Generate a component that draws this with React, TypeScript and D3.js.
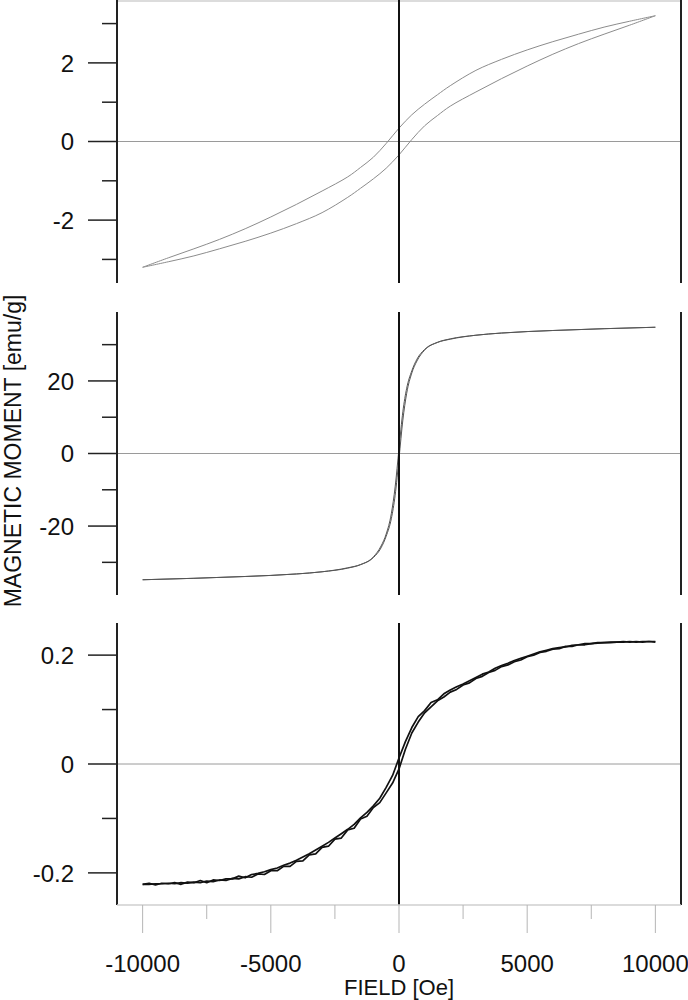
import React from "react";
import * as d3 from "d3";

// ---------- DATA ----------
// Panel 1 (hysteresis, weak)
const field1 = [-10000, -9000, -8000, -7000, -6000, -5000, -4000, -3000, -2000, -1500, -1000, -500, 0, 500, 1000, 1500, 2000, 3000, 4000, 5000, 6000, 7000, 8000, 9000, 10000];
const upper1 = [-3.2, -2.96, -2.73, -2.49, -2.22, -1.92, -1.6, -1.26, -0.9, -0.66, -0.4, -0.05, 0.34, 0.68, 0.95, 1.19, 1.42, 1.81, 2.09, 2.33, 2.54, 2.73, 2.91, 3.06, 3.2];
const lower1 = [-3.2, -3.06, -2.91, -2.73, -2.54, -2.33, -2.09, -1.81, -1.42, -1.19, -0.95, -0.68, -0.34, 0.05, 0.4, 0.66, 0.9, 1.26, 1.6, 1.92, 2.22, 2.49, 2.73, 2.96, 3.2];

// Panel 2 (soft ferromagnetic)
const field2 = [-10000, -8000, -6000, -4000, -3000, -2000, -1500, -1000, -700, -500, -300, -150, 0, 150, 300, 500, 700, 1000, 1500, 2000, 3000, 4000, 6000, 8000, 10000];
const upper2 = [-34.8, -34.4, -33.9, -33.2, -32.6, -31.5, -30.6, -28.5, -25.5, -22.2, -16.6, -9.2, 1.4, 11.5, 18.0, 22.8, 26.0, 28.7, 30.65, 31.6, 32.6, 33.2, 33.9, 34.4, 34.8];
const lower2 = [-34.8, -34.4, -33.9, -33.2, -32.6, -31.6, -30.65, -28.7, -26.0, -22.8, -18.0, -11.5, -1.4, 9.2, 16.6, 22.2, 25.5, 28.5, 30.6, 31.5, 32.6, 33.2, 33.9, 34.4, 34.8];

// Panel 3 (noisy measurement)
const field3 = [-10000, -9750, -9500, -9250, -9000, -8750, -8500, -8250, -8000, -7750, -7500, -7250, -7000, -6750, -6500, -6250, -6000, -5750, -5500, -5250, -5000, -4750, -4500, -4250, -4000, -3750, -3500, -3250, -3000, -2750, -2500, -2250, -2000, -1750, -1500, -1250, -1000, -750, -500, -250, 0, 250, 500, 750, 1000, 1250, 1500, 1750, 2000, 2250, 2500, 2750, 3000, 3250, 3500, 3750, 4000, 4250, 4500, 4750, 5000, 5250, 5500, 5750, 6000, 6250, 6500, 6750, 7000, 7250, 7500, 7750, 8000, 8250, 8500, 8750, 9000, 9250, 9500, 9750, 10000];
const upper3 = [-0.221, -0.219, -0.222, -0.219, -0.22, -0.218, -0.221, -0.217, -0.218, -0.214, -0.218, -0.213, -0.214, -0.211, -0.211, -0.206, -0.209, -0.203, -0.201, -0.198, -0.194, -0.191, -0.186, -0.182, -0.177, -0.171, -0.165, -0.158, -0.151, -0.144, -0.136, -0.128, -0.12, -0.111, -0.099, -0.089, -0.077, -0.063, -0.043, -0.021, 0.011, 0.041, 0.067, 0.087, 0.098, 0.113, 0.118, 0.129, 0.136, 0.142, 0.147, 0.153, 0.159, 0.165, 0.169, 0.176, 0.181, 0.185, 0.19, 0.194, 0.198, 0.202, 0.206, 0.209, 0.212, 0.214, 0.215, 0.218, 0.219, 0.221, 0.221, 0.223, 0.223, 0.224, 0.224, 0.225, 0.224, 0.225, 0.224, 0.225, 0.224];
const lower3 = [-0.221, -0.221, -0.22, -0.22, -0.219, -0.22, -0.218, -0.219, -0.217, -0.218, -0.215, -0.216, -0.213, -0.214, -0.21, -0.211, -0.207, -0.208, -0.202, -0.203, -0.196, -0.196, -0.188, -0.188, -0.179, -0.178, -0.167, -0.165, -0.153, -0.151, -0.138, -0.136, -0.121, -0.118, -0.101, -0.096, -0.08, -0.071, -0.053, -0.035, -0.009, 0.027, 0.057, 0.077, 0.094, 0.105, 0.116, 0.123, 0.132, 0.137, 0.145, 0.149, 0.157, 0.161, 0.168, 0.172, 0.179, 0.182, 0.188, 0.191, 0.197, 0.2, 0.205, 0.207, 0.211, 0.212, 0.216, 0.216, 0.219, 0.219, 0.221, 0.222, 0.223, 0.223, 0.224, 0.224, 0.225, 0.224, 0.225, 0.225, 0.225];

// Ticks
const xMajorTicks = [-10000, -5000, 0, 5000, 10000];
const xMinorTicks = [-7500, -2500, 2500, 7500];
const yTicks1 = [-3, -2, -1, 0, 1, 2, 3];
const yLabels1 = [-2, 0, 2];
const yTicks2 = [-30, -20, -10, 0, 10, 20, 30];
const yLabels2 = [-20, 0, 20];
const yTicks3 = [-0.2, -0.1, 0, 0.1, 0.2];
const yLabels3 = [-0.2, 0, 0.2];

const xTitle = "FIELD [Oe]";
const yTitle = "MAGNETIC MOMENT [emu/g]";

const FONT = "'Liberation Sans', Arial, sans-serif";

const LEFT = 117;
const RIGHT = 681;

const x = d3.scaleLinear().domain([-11000, 11000]).range([LEFT, RIGHT]);

type PanelProps = {
  top: number;
  bottom: number;
  domain: [number, number];
  ticks: number[];
  labels: number[];
  branches: { xs: number[]; ys: number[] }[];
  stroke: string;
  strokeWidth: number;
  curve: d3.CurveFactory;
  fmt: (v: number) => string;
};

function Panel(p: PanelProps) {
  const y = d3.scaleLinear().domain(p.domain).range([p.bottom, p.top]);
  const isMajor = (v: number) => p.labels.some((l) => Math.abs(l - v) < 1e-9);
  return (
    <g>
      <line x1={LEFT} x2={RIGHT} y1={y(0)} y2={y(0)} stroke="#9a9a9a" strokeWidth={1} />
      {p.branches.map((b, i) => {
        const line = d3
          .line<number>()
          .x((_, j) => x(b.xs[j]))
          .y((v) => y(v))
          .curve(p.curve);
        return (
          <path key={i} d={line(b.ys) || ""} fill="none" stroke={p.stroke} strokeWidth={p.strokeWidth} strokeLinejoin="round" />
        );
      })}
      <line x1={x(0)} x2={x(0)} y1={p.top} y2={p.bottom} stroke="#111" strokeWidth={2} />
      <line x1={LEFT} x2={LEFT} y1={p.top} y2={p.bottom} stroke="#222" strokeWidth={2} />
      <line x1={RIGHT} x2={RIGHT} y1={p.top} y2={p.bottom} stroke="#222" strokeWidth={2} />
      {p.ticks.map((t) => (
        <line key={"t" + t} x1={isMajor(t) ? 88 : 102} x2={LEFT} y1={y(t)} y2={y(t)} stroke="#222" strokeWidth={1.5} />
      ))}
      {p.labels.map((t) => (
        <text key={"l" + t} x={74} y={y(t)} dy="0.36em" textAnchor="end" fontSize={24} fontFamily={FONT} fill="#111">
          {p.fmt(t)}
        </text>
      ))}
    </g>
  );
}

export default function App() {
  const f1 = (v: number) => String(v);
  const f3 = (v: number) => (v === 0 ? "0" : v.toFixed(1));
  return (
    <svg width={688} height={1000} style={{ position: "absolute", left: 0, top: 0, background: "#fff" }}>
      <rect x={0} y={0} width={688} height={1000} fill="#fff" />
      <line x1={LEFT} x2={RIGHT} y1={1} y2={1} stroke="#dcdcdc" strokeWidth={2} />
      <Panel
        top={0}
        bottom={283}
        domain={[-3.6, 3.6]}
        ticks={yTicks1}
        labels={yLabels1}
        branches={[{ xs: field1, ys: upper1 }, { xs: field1, ys: lower1 }]}
        stroke="#8c8c8c"
        strokeWidth={1}
        curve={d3.curveCatmullRom.alpha(0.5)}
        fmt={f1}
      />
      <Panel
        top={312}
        bottom={595}
        domain={[-39, 39]}
        ticks={yTicks2}
        labels={yLabels2}
        branches={[{ xs: field2, ys: upper2 }, { xs: field2, ys: lower2 }]}
        stroke="#555"
        strokeWidth={1}
        curve={d3.curveMonotoneX}
        fmt={f1}
      />
      <Panel
        top={623}
        bottom={905}
        domain={[-0.259, 0.259]}
        ticks={yTicks3}
        labels={yLabels3}
        branches={[{ xs: field3, ys: upper3 }, { xs: field3, ys: lower3 }]}
        stroke="#111"
        strokeWidth={1.7}
        curve={d3.curveLinear}
        fmt={f3}
      />
      <line x1={LEFT} x2={RIGHT} y1={905} y2={905} stroke="#cfcfcf" strokeWidth={1.5} />
      {xMajorTicks.map((t) => (
        <line key={"xm" + t} x1={x(t)} x2={x(t)} y1={905} y2={933} stroke="#b5b5b5" strokeWidth={1} />
      ))}
      {xMinorTicks.map((t) => (
        <line key={"xn" + t} x1={x(t)} x2={x(t)} y1={905} y2={919} stroke="#b5b5b5" strokeWidth={1} />
      ))}
      {xMajorTicks.map((t) => (
        <text key={"xl" + t} x={x(t)} y={972} textAnchor="middle" fontSize={24} fontFamily={FONT} fill="#111">
          {String(t)}
        </text>
      ))}
      <text x={x(0)} y={995} textAnchor="middle" fontSize={22} fontFamily={FONT} fill="#111">
        {xTitle}
      </text>
      <text transform={`translate(21, 451) rotate(-90)`} textAnchor="middle" fontSize={23} fontFamily={FONT} fill="#111">
        {yTitle}
      </text>
    </svg>
  );
}
